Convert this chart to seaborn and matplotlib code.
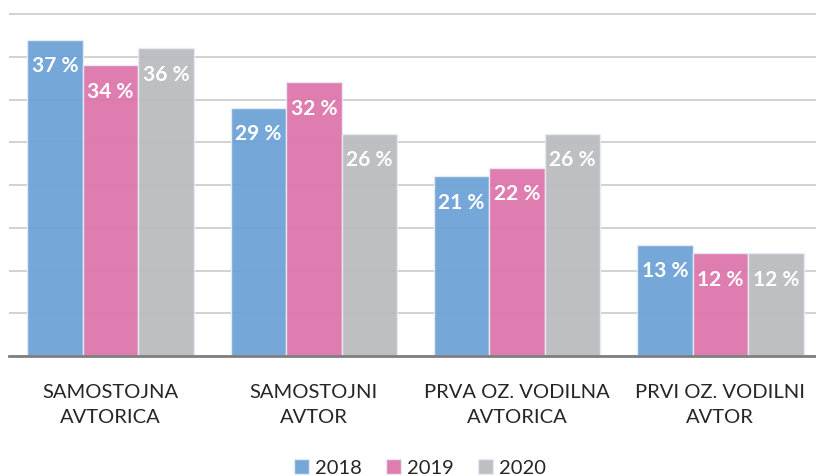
import pandas as pd
import numpy as np
import matplotlib
matplotlib.use("Agg")
import matplotlib.pyplot as plt
import seaborn as sns

# Chart data
categories = ["SAMOSTOJNA\nAVTORICA", "SAMOSTOJNI\nAVTOR",
              "PRVA OZ. VODILNA\nAVTORICA", "PRVI OZ. VODILNI\nAVTOR"]
years = ["2018", "2019", "2020"]
values_2018 = [37, 29, 21, 13]
values_2019 = [34, 32, 22, 12]
values_2020 = [36, 26, 26, 12]
colors = ["#6AA0D6", "#DD72AA", "#B9BABE"]

df = pd.DataFrame({
    "category": categories * 3,
    "year": [y for y in years for _ in categories],
    "value": values_2018 + values_2019 + values_2020,
})

sns.set_style("white")
plt.rcParams["font.family"] = ["Lato", "DejaVu Sans"]

fig = plt.figure(figsize=(8.16, 4.76), dpi=100)
ax = fig.add_axes([9 / 816, 120 / 476, 813 / 816, 342 * 40.3 / 40 / 476])

sns.barplot(data=df, x="category", y="value", hue="year", palette=colors,
            width=0.82, alpha=0.92, edgecolor="#E8EEF5", linewidth=1.0,
            saturation=1, ax=ax)

ax.set_ylim(0, 40.3)
ax.set_xlim(-0.5, 3.5)
ax.set_yticks(np.arange(0, 41, 5))
ax.set_axisbelow(True)
ax.yaxis.grid(True, color="#CFCFCF", linewidth=1.3)
ax.tick_params(axis="y", left=False, labelleft=False)
ax.set_xticks(range(len(categories)))
ax.set_xticklabels(categories, fontsize=14.5, color="#262626", linespacing=1.6)
ax.tick_params(axis="x", length=0, pad=20)
ax.set_xlabel("")
ax.set_ylabel("")
for s in ["top", "right", "left"]:
    ax.spines[s].set_visible(False)
ax.spines["bottom"].set_color("#7F7F7F")
ax.spines["bottom"].set_linewidth(2)

# Value labels inside the bars
for container in ax.containers:
    for bar in container:
        h = bar.get_height()
        ax.annotate(f"{h:.0f} %", (bar.get_x() + bar.get_width() / 2, h),
                    xytext=(0, -19), textcoords="offset points",
                    ha="center", va="center", color="white",
                    fontsize=15, fontweight="bold")

# Legend at the bottom
handles, labels = ax.get_legend_handles_labels()
ax.legend(handles, labels, loc="center", bbox_to_anchor=(0.515, 0.017),
          bbox_transform=fig.transFigure, ncol=3, frameon=False,
          fontsize=14.5, handlelength=0.75, handleheight=0.75,
          handletextpad=0.3, columnspacing=1.2, labelcolor="#262626")

fig.savefig("out.png", dpi=100)
